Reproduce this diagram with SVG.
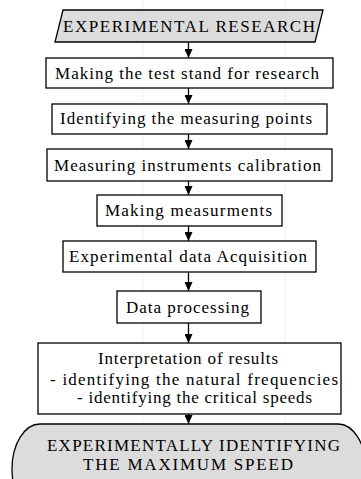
<svg xmlns="http://www.w3.org/2000/svg" width="361" height="479" viewBox="0 0 361 479">
<style>
.bg{stroke:#e2e2e2;stroke-width:0.6}
.box{fill:#ffffff;stroke:#000000;stroke-width:1.3}
.gray{fill:#dcdcdc;stroke:#000000;stroke-width:1.3}
.t{font-family:"Liberation Serif","Times New Roman",serif;font-size:17px;fill:#000000}
.c{stroke:#000000;stroke-width:1.3;fill:none}
</style>
<defs>
<marker id="ah" markerWidth="9" markerHeight="8" refX="9" refY="4" orient="auto" markerUnits="userSpaceOnUse">
<path d="M0,0 L9,4 L0,8 Z" fill="#000000"/>
</marker>
</defs>
<rect x="0" y="0" width="361" height="479" fill="#ffffff"/>
<line class="bg" x1="143" y1="0" x2="143" y2="479"/>
<line class="bg" x1="285" y1="0" x2="285" y2="479"/>
<g id="connectors">
<line class="c" x1="188.5" y1="42" x2="188.5" y2="58" marker-end="url(#ah)"/>
<line class="c" x1="188.5" y1="88" x2="188.5" y2="104" marker-end="url(#ah)"/>
<line class="c" x1="188.5" y1="134" x2="188.5" y2="149" marker-end="url(#ah)"/>
<line class="c" x1="188.5" y1="181" x2="188.5" y2="195" marker-end="url(#ah)"/>
<line class="c" x1="188.5" y1="226" x2="188.5" y2="241" marker-end="url(#ah)"/>
<line class="c" x1="188.5" y1="272" x2="188.5" y2="291" marker-end="url(#ah)"/>
<line class="c" x1="188.5" y1="323" x2="188.5" y2="343" marker-end="url(#ah)"/>
<line class="c" x1="188.5" y1="414" x2="188.5" y2="424" marker-end="url(#ah)"/>
</g>
<g id="start">
<polygon class="gray" points="63,10 323,10 315,42 55,42"/>
<text class="t" x="63" y="32" textLength="252" lengthAdjust="spacing">EXPERIMENTAL RESEARCH</text>
</g>
<g id="n1">
<rect class="box" x="46" y="58" width="287" height="30"/>
<text class="t" x="55" y="79" textLength="264" lengthAdjust="spacing">Making the test stand for research</text>
</g>
<g id="n2">
<rect class="box" x="52" y="104" width="275" height="30"/>
<text class="t" x="60" y="124" textLength="252" lengthAdjust="spacing">Identifying the measuring points</text>
</g>
<g id="n3">
<rect class="box" x="47" y="149" width="285" height="32"/>
<text class="t" x="54" y="171" textLength="267" lengthAdjust="spacing">Measuring instruments calibration</text>
</g>
<g id="n4">
<rect class="box" x="97" y="195" width="185" height="31"/>
<text class="t" x="105" y="216" textLength="167" lengthAdjust="spacing">Making measurments</text>
</g>
<g id="n5">
<rect class="box" x="63" y="241" width="253" height="31"/>
<text class="t" x="69" y="262" textLength="238" lengthAdjust="spacing">Experimental data Acquisition</text>
</g>
<g id="n6">
<rect class="box" x="117" y="291" width="144" height="32"/>
<text class="t" x="126" y="313" textLength="123" lengthAdjust="spacing">Data processing</text>
</g>
<g id="n7">
<rect class="box" x="38" y="343" width="303" height="71"/>
<text class="t" x="98" y="364" textLength="180" lengthAdjust="spacing">Interpretation of results</text>
<text class="t" x="50" y="385" textLength="288" lengthAdjust="spacing">- identifying the natural frequencies</text>
<text class="t" x="77" y="403" textLength="235" lengthAdjust="spacing">- identifying the critical speeds</text>
</g>
<g id="end">
<rect class="gray" x="12" y="424" width="354" height="90" rx="28" ry="45"/>
<text class="t" x="47" y="451" textLength="293" lengthAdjust="spacing">EXPERIMENTALLY IDENTIFYING</text>
<text class="t" x="83" y="470" textLength="210" lengthAdjust="spacing">THE MAXIMUM SPEED</text>
</g>
</svg>
